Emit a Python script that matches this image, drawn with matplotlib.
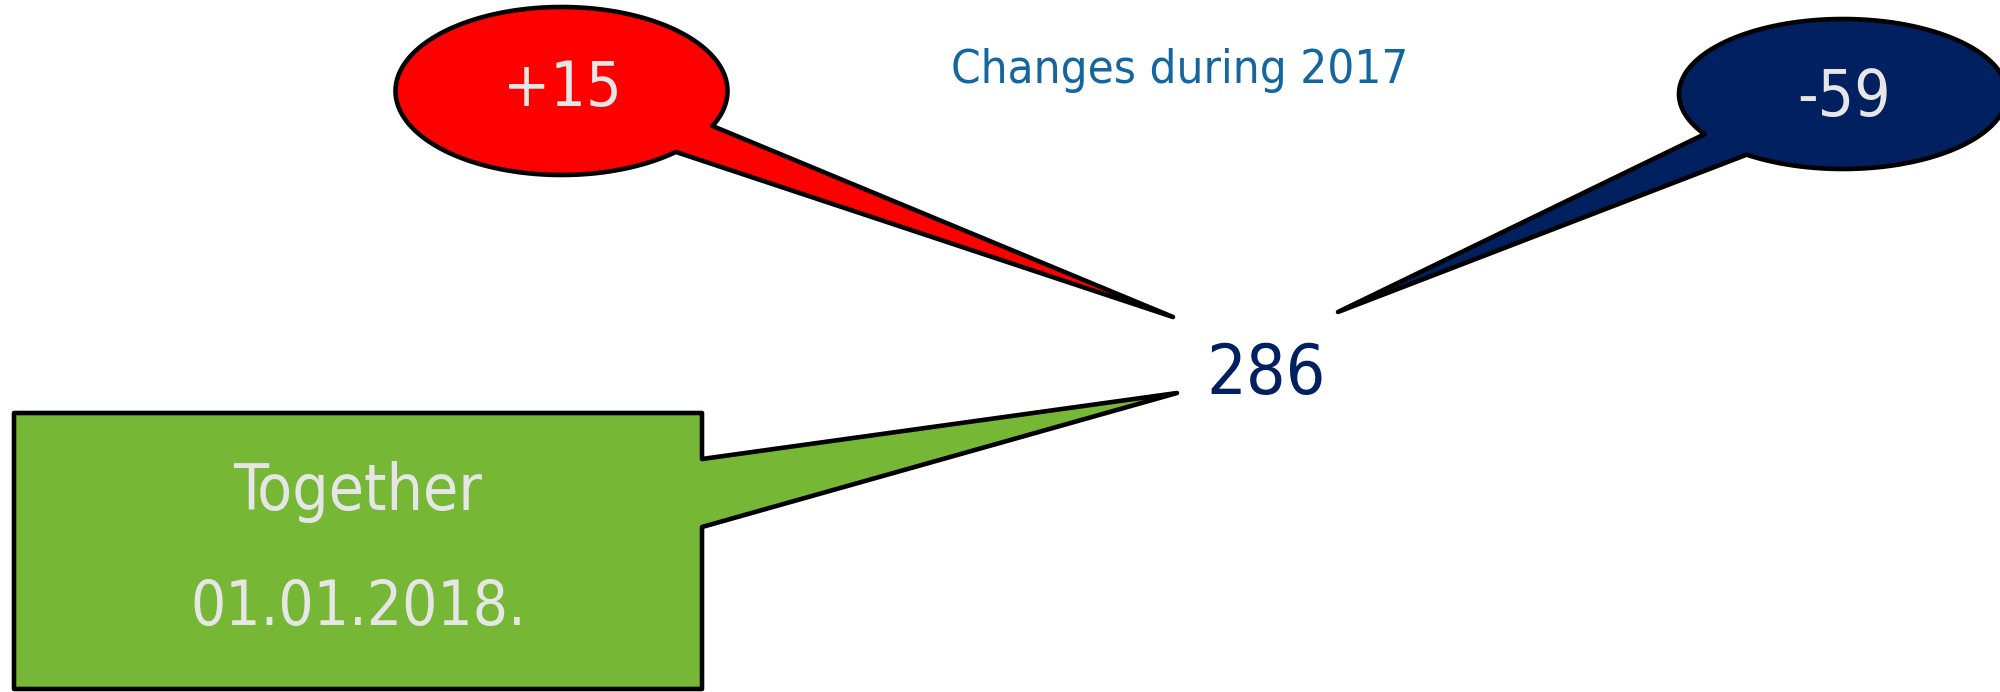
import numpy as np
import matplotlib
matplotlib.use("Agg")
import matplotlib.pyplot as plt
from matplotlib.patches import Polygon

# ---- data ----
title = "Changes during 2017"
total_label = "286"
increase_label = "+15"
decrease_label = "-59"
box_lines = ["Together", "01.01.2018."]

RED = "#FF0000"
NAVY = "#002060"
GREEN = "#77B736"
TXT = "#E6E6E6"
TITLE_C = "#14669E"

W, H = 2000, 692
fig = plt.figure(figsize=(W / 100, H / 100), dpi=100)
ax = fig.add_axes([0, 0, 1, 1])
ax.set_xlim(0, W)
ax.set_ylim(H, 0)
ax.axis("off")

FONT = dict(family="DejaVu Sans", fontstretch="condensed")
LW = 3.3


def ellipse_callout(cx, cy, a, b, ang1, ang2, tip, color):
    a1, a2 = np.radians(ang1), np.radians(ang2)
    if a2 < a1:
        a2 += 2 * np.pi
    t = np.linspace(a2, a1 + 2 * np.pi, 300)
    pts = np.column_stack([cx + a * np.cos(t), cy + b * np.sin(t)])
    pts = np.vstack([pts, [tip]])
    ax.add_patch(Polygon(pts, closed=True, facecolor=color, edgecolor="black",
                         linewidth=LW, joinstyle="round"))


# red callout (+15)
ellipse_callout(561.5, 91, 166, 84, 24.6, 46.5, (1173, 317), RED)
# navy callout (-59)
ellipse_callout(1843, 94, 164, 75, 126, 147.6, (1338, 312), NAVY)

# green rectangular callout
green_pts = [(14, 413), (702, 413), (702, 459), (1177, 393), (702, 527),
             (702, 689), (14, 689)]
ax.add_patch(Polygon(green_pts, closed=True, facecolor=GREEN, edgecolor="black",
                     linewidth=LW, joinstyle="round"))

ax.text(562, 106, increase_label, color=TXT, fontsize=45, ha="center", va="baseline", **FONT)
ax.text(1844, 116, decrease_label, color=TXT, fontsize=46, ha="center", va="baseline", **FONT)
ax.text(1266, 394, total_label, color=NAVY, fontsize=50, ha="center", va="baseline", **FONT)
ax.text(1180, 83, title, color=TITLE_C, fontsize=34, ha="center", va="baseline", **FONT)
ax.text(358, 510, box_lines[0], color=TXT, fontsize=46, ha="center", va="baseline", **FONT)
ax.text(358, 625, box_lines[1], color=TXT, fontsize=44.5, ha="center", va="baseline", **FONT)

fig.savefig("out.png", dpi=100, facecolor="white")
